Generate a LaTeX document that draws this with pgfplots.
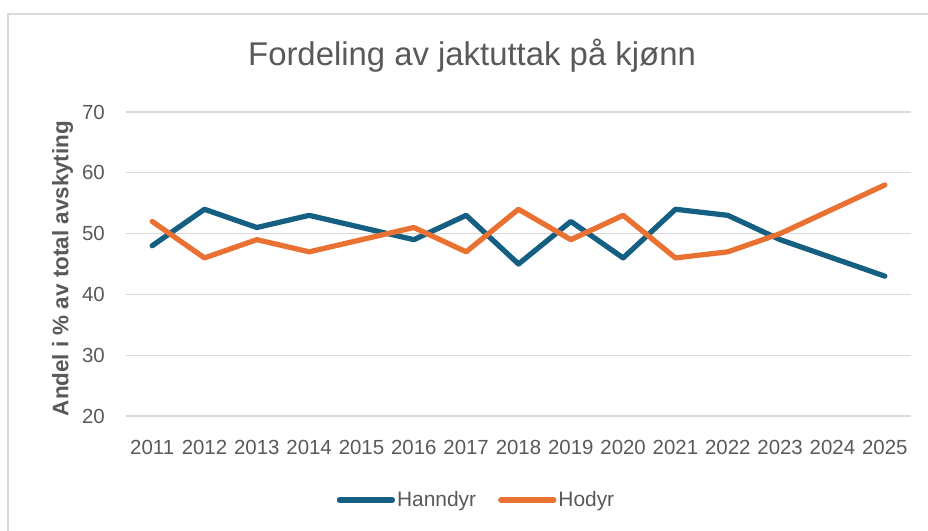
\documentclass[border=0pt]{standalone}
\usepackage{fontspec}
\setmainfont{Liberation Sans}
\usepackage{pgfplots}
\pgfplotsset{compat=1.18}
\definecolor{hann}{HTML}{156082}
\definecolor{ho}{HTML}{E97132}
\definecolor{txt}{HTML}{595959}
\definecolor{grd}{HTML}{D9D9D9}
\begin{document}
\begin{tikzpicture}[x=1bp,y=1bp]
\useasboundingbox (-126,-115) rectangle (802,416);
% chart frame (cropped at right and bottom)
\draw[grd, line width=1.2bp] (-118,-130) -- (-118,402) -- (820,402);
\begin{axis}[
  at={(0,0)}, anchor=south west,
  scale only axis, width=785bp, height=304bp,
  xmin=2010.5, xmax=2025.5, ymin=20, ymax=70,
  xtick={2011,...,2025}, ytick={20,30,...,70},
  /pgf/number format/assume math mode=true,
  xticklabel style={/pgf/number format/set thousands separator={}},
  axis line style={draw=none}, tick style={draw=none},
  ymajorgrids, grid style={grd, line width=1.2bp},
  tick label style={font=\fontsize{20.5}{20.5}\selectfont, text=txt},
  yticklabel style={anchor=east, inner sep=0pt, xshift=-21bp},
  xticklabel style={anchor=north, inner sep=0pt, yshift=-24bp},
  title={Fordeling av jaktuttak på kjønn},
  title style={at={(axis description cs:0.4408,1.132)}, anchor=base,
    inner sep=0pt, font=\fontsize{33}{33}\selectfont, text=txt},
  ylabel={Andel i \% av total avskyting},
  ylabel style={at={(axis description cs:-0.0733,0.485)}, anchor=base,
    inner sep=0pt, font=\bfseries\fontsize{22.5}{22.5}\selectfont, text=txt},
  legend columns=2,
  legend style={at={(axis description cs:0.4465,-0.276)}, anchor=center,
    draw=none, fill=none, font=\fontsize{21}{21}\selectfont, text=txt,
    /tikz/every even column/.append style={column sep=20bp},
    nodes={inner sep=2bp}},
  legend image code/.code={\draw[#1] (0bp,0bp) -- (53bp,0bp);},
  every axis plot/.append style={line width=5.25bp, line cap=round, line join=round},
  clip=false,
]
\addplot[hann] coordinates {
(2011,48) (2012,54) (2013,51) (2014,53) (2015,51) (2016,49) (2017,53)
(2018,45) (2019,52) (2020,46) (2021,54) (2022,53) (2023,49) (2024,46) (2025,43)
};
\addlegendentry{Hanndyr}
\addplot[ho] coordinates {
(2011,52) (2012,46) (2013,49) (2014,47) (2015,49) (2016,51) (2017,47)
(2018,54) (2019,49) (2020,53) (2021,46) (2022,47) (2023,50) (2024,54) (2025,58)
};
\addlegendentry{Hodyr}
\end{axis}
\end{tikzpicture}
\end{document}
